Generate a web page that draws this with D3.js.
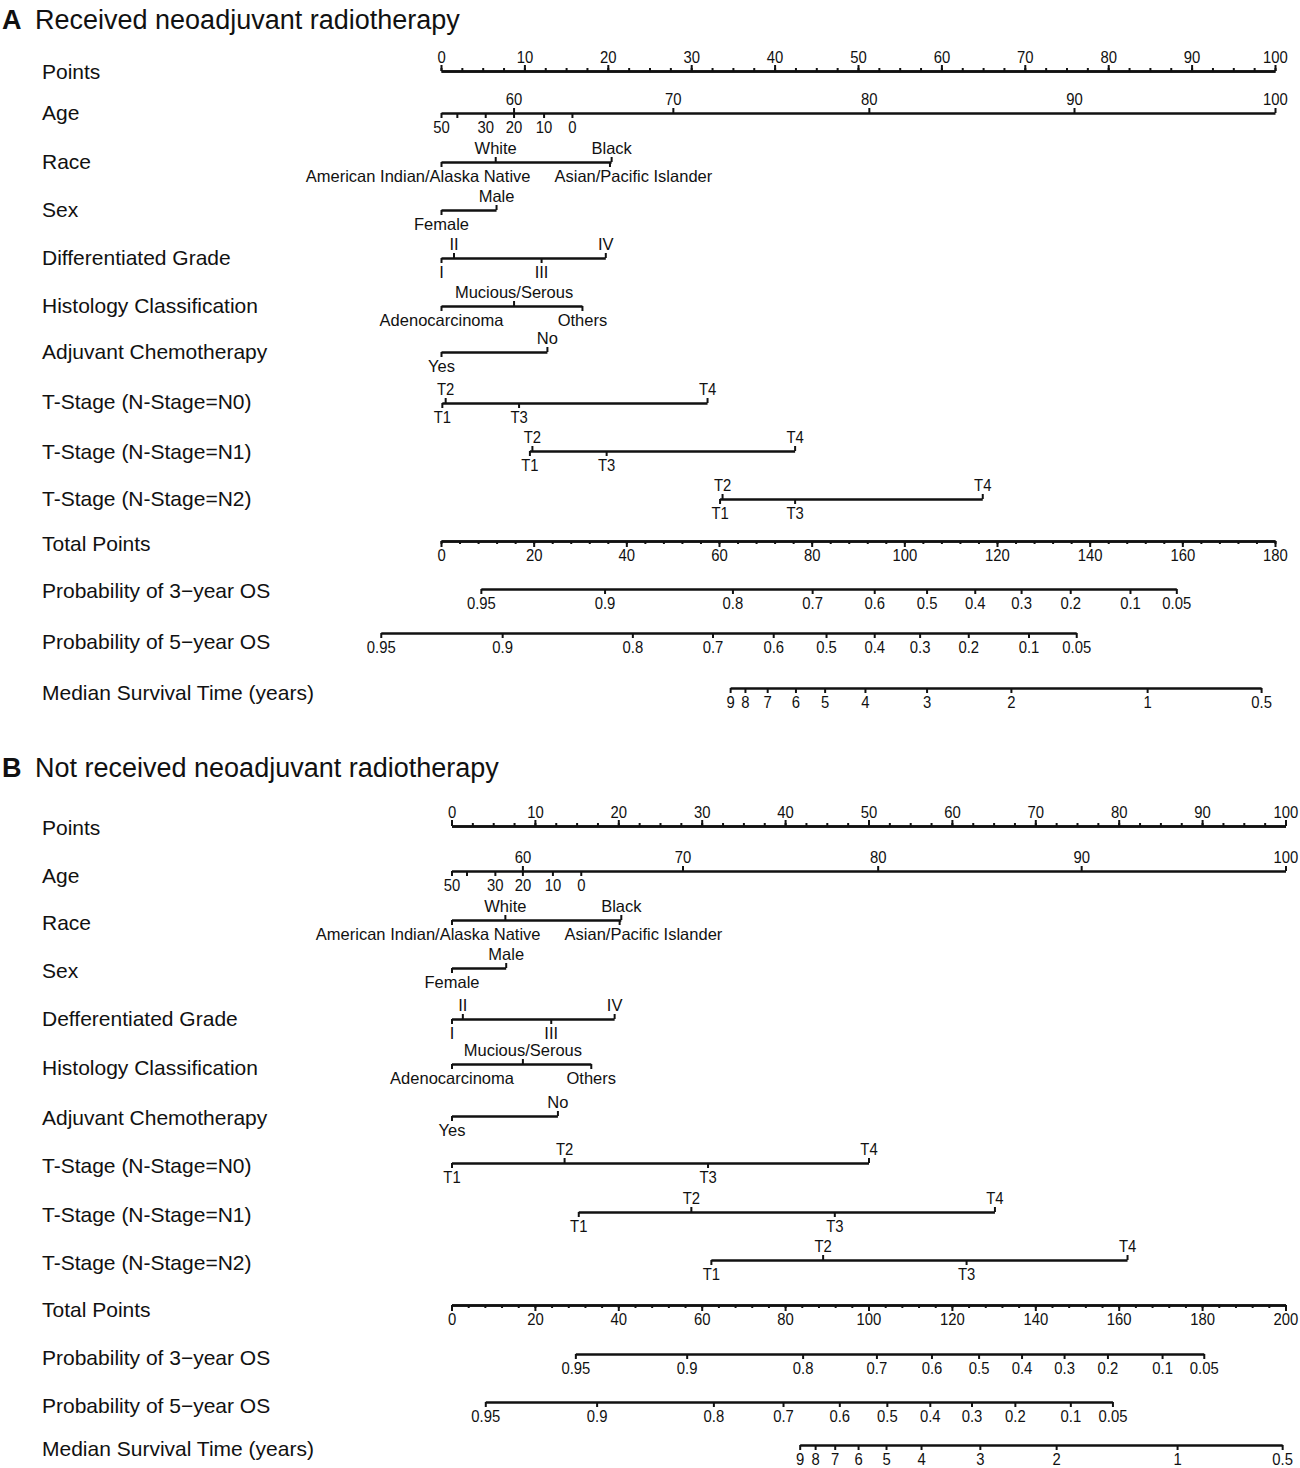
<!DOCTYPE html>
<html>
<head>
<meta charset="utf-8">
<script src="https://cdn.jsdelivr.net/npm/d3@7"></script>
<style>
  body { margin: 0; background: #fff; }
  text { font-family: "Liberation Sans", Arial, Helvetica, sans-serif; fill: #111; }
  .ax .domain { stroke: #111; stroke-width: 2.7; }
  .ax .tick line { stroke: #111; stroke-width: 2; }
</style>
</head>
<body>
<svg id="chart" width="1300" height="1468"></svg>
<script>
/**
 * 列名（两个面板）
 */
const rowNamesA = ["Points", "Age", "Race", "Sex", "Differentiated Grade", "Histology Classification",
  "Adjuvant Chemotherapy", "T-Stage (N-Stage=N0)", "T-Stage (N-Stage=N1)", "T-Stage (N-Stage=N2)",
  "Total Points", "Probability of 3\u2212year OS", "Probability of 5\u2212year OS", "Median Survival Time (years)"];
const rowNamesB = ["Points", "Age", "Race", "Sex", "Defferentiated Grade", "Histology Classification",
  "Adjuvant Chemotherapy", "T-Stage (N-Stage=N0)", "T-Stage (N-Stage=N1)", "T-Stage (N-Stage=N2)",
  "Total Points", "Probability of 3\u2212year OS", "Probability of 5\u2212year OS", "Median Survival Time (years)"];

// Points 轴刻度
const pointTicks = [0, 10, 20, 30, 40, 50, 60, 70, 80, 90, 100];

// Age
const ageLabels = ["0", "10", "20", "30", "", "50", "60", "70", "80", "90", "100"];
const ageSide = ["down", "down", "down", "down", "down", "down", "up", "up", "up", "up", "up"];
const agePointsA = [15.7, 12.3, 8.7, 5.3, 1.9, 0, 8.7, 27.8, 51.3, 75.9, 100];
const agePointsB = [15.5, 12.1, 8.5, 5.2, 1.8, 0, 8.5, 27.7, 51.1, 75.5, 100];

// Race
const raceLabels = ["American Indian/Alaska Native", "White", "Asian/Pacific Islander", "Black"];
const raceSide = ["down", "up", "down", "up"];
const racePointsA = [0, 6.5, 20.2, 20.4];
const racePointsB = [0, 6.4, 20.1, 20.3];

// Sex
const sexLabels = ["Female", "Male"];
const sexSide = ["down", "up"];
const sexPointsA = [0, 6.6];
const sexPointsB = [0, 6.5];

// Grade
const gradeLabels = ["I", "II", "III", "IV"];
const gradeSide = ["down", "up", "down", "up"];
const gradePointsA = [0, 1.5, 12.0, 19.7];
const gradePointsB = [0, 1.3, 11.9, 19.5];

// Histology
const histLabels = ["Adenocarcinoma", "Mucious/Serous", "Others"];
const histSide = ["down", "up", "down"];
const histPointsA = [0, 8.7, 16.9];
const histPointsB = [0, 8.5, 16.7];

// Adjuvant chemotherapy
const chemoLabels = ["Yes", "No"];
const chemoSide = ["down", "up"];
const chemoPointsA = [0, 12.7];
const chemoPointsB = [0, 12.7];

// T-Stage
const tLabels = ["T1", "T2", "T3", "T4"];
const tSide = ["down", "up", "down", "up"];
const tN0PointsA = [0.1, 0.5, 9.3, 31.9];
const tN1PointsA = [10.6, 10.9, 19.8, 42.4];
const tN2PointsA = [33.4, 33.7, 42.4, 64.9];
const tN0PointsB = [0, 13.5, 30.7, 50.0];
const tN1PointsB = [15.2, 28.7, 45.9, 65.1];
const tN2PointsB = [31.1, 44.5, 61.7, 81.0];

// Total points
const totalTicksA = [0, 20, 40, 60, 80, 100, 120, 140, 160, 180];
const totalTicksB = [0, 20, 40, 60, 80, 100, 120, 140, 160, 180, 200];

// 生存概率 / 中位生存时间（对应的总分位置）
const probLabels = ["0.95", "0.9", "0.8", "0.7", "0.6", "0.5", "0.4", "0.3", "0.2", "0.1", "0.05"];
const prob3TotalA = [8.6, 35.3, 62.9, 80.1, 93.5, 104.8, 115.2, 125.2, 135.8, 148.7, 158.7];
const prob5TotalA = [-13.0, 13.2, 41.3, 58.6, 71.7, 83.1, 93.5, 103.3, 113.8, 126.8, 137.1];
const prob3TotalB = [29.7, 56.4, 84.2, 101.9, 115.1, 126.4, 136.7, 146.9, 157.3, 170.4, 180.4];
const prob5TotalB = [8.1, 34.8, 62.8, 79.5, 93.0, 104.4, 114.7, 124.7, 135.1, 148.4, 158.5];
const medianLabels = ["9", "8", "7", "6", "5", "4", "3", "2", "1", "0.5"];
const medianTotalA = [62.4, 65.6, 70.4, 76.5, 82.8, 91.5, 104.8, 123.0, 152.4, 177.0];
const medianTotalB = [83.5, 87.2, 91.9, 97.5, 104.2, 112.6, 126.7, 145.0, 174.0, 199.2];

// 版面位置
const lineYA = [71, 113, 162, 210, 258, 306, 352, 403, 451, 499, 541, 589, 633, 688];
const nameYA = [72, 113, 162, 210, 258, 306, 352, 402, 452, 499, 544, 591, 642, 693];
const lineYB = [826, 871, 920, 968, 1019, 1064, 1116, 1163, 1212, 1260, 1305, 1354, 1402, 1445];
const nameYB = [828, 876, 923, 971, 1019, 1068, 1118, 1166, 1215, 1263, 1310, 1358, 1406, 1449];

const NUM_SIZE = 16.5;   // 数字标签（窄体）
const CAT_SIZE = 16.5;   // 分类标签

const svg = d3.select('#chart');

/**
 * 轴样式；narrow 为 true 时把文字横向压窄
 */
styleAxis = (ag, size, narrow) => {
  ag.attr('class', 'ax').attr('font-size', size).attr('font-family', null);
  ag.selectAll('text').attr('fill', '#111');
  if (narrow) ag.selectAll('text').attr('transform', 'scale(0.9,1)');
}

/**
 * 同侧标签重叠时左右推开
 */
repel = (row) => {
  row.selectAll('g.ax').each(function () {
    const items = [];
    d3.select(this).selectAll('.tick').each(function () {
      const tx = +d3.select(this).attr('transform').match(/translate\(([^,]+)/)[1];
      const t = d3.select(this).select('text');
      const w = t.node().getComputedTextLength();
      if (w > 0) items.push({ t, x: tx, w, dx: 0 });
    });
    items.sort((a, b) => a.x - b.x);
    for (let i = 1; i < items.length; i++) {
      const a = items[i - 1], b = items[i];
      const ov = (a.x + a.dx + a.w / 2 + 24) - (b.x + b.dx - b.w / 2);
      if (ov > 0) { a.dx -= ov / 2; b.dx += ov / 2; }
    }
    items.forEach(d => d.t.attr('x', d.dx));
  });
}

/**
 * 因子行：上下两侧标签
 */
drawFactorRow = (g, y, ptScale, f) => {
  const ext = d3.extent(f.pts);
  const s = d3.scaleLinear().domain(ext).range(ext.map(ptScale));
  const row = g.append('g').attr('transform', `translate(0,${y})`);
  ['up', 'down'].forEach(dir => {
    const idx = f.side.map((d, i) => d === dir ? i : -1).filter(i => i >= 0);
    const axis = (dir === 'up' ? d3.axisTop(s) : d3.axisBottom(s))
      .tickValues(idx.map(i => f.pts[i]))
      .tickFormat((d, k) => f.labels[idx[k]])
      .tickSize(5).tickSizeOuter(0).tickPadding(3);
    const ag = row.append('g').call(axis);
    styleAxis(ag, f.narrow ? NUM_SIZE : CAT_SIZE, f.narrow);
    if (dir === 'down') ag.select('.domain').remove();
  });
  if (!f.narrow) repel(row);
}

/**
 * 数值行：总分换算刻度（概率 / 中位生存时间）
 */
drawTotalRow = (g, y, totScale, labels, tot) => {
  const ext = d3.extent(tot);
  const s = d3.scaleLinear().domain(ext).range(ext.map(totScale));
  const axis = d3.axisBottom(s).tickValues(tot)
    .tickFormat((d, k) => labels[k])
    .tickSize(5).tickSizeOuter(0).tickPadding(3);
  const ag = g.append('g').attr('transform', `translate(0,${y})`).call(axis);
  styleAxis(ag, NUM_SIZE, true);
}

/**
 * 绘制一个面板
 */
drawPanel = (p) => {
  const g = svg.append('g');
  const ptScale = d3.scaleLinear().domain([0, 100]).range(p.xRange);
  const tmax = p.totalTicks[p.totalTicks.length - 1];
  const totScale = d3.scaleLinear().domain([0, tmax]).range(p.xRange);

  g.append('text').attr('x', 2).attr('y', p.titleY).attr('font-size', 27)
    .attr('font-weight', 'bold').text(p.letter);
  g.append('text').attr('x', 35).attr('y', p.titleY).attr('font-size', 27).text(p.title);

  p.names.forEach((n, i) => {
    g.append('text').attr('x', 42).attr('y', p.nameY[i]).attr('dy', '0.35em')
      .attr('font-size', 21).text(n);
  });

  // Points
  const pg = g.append('g').attr('transform', `translate(0,${p.lineY[0]})`);
  const minorP = pg.append('g').call(d3.axisTop(ptScale).tickValues(d3.range(0, 100.1, 2.5))
    .tickFormat('').tickSize(3).tickSizeOuter(0));
  styleAxis(minorP, NUM_SIZE, true);
  const majorP = pg.append('g').call(d3.axisTop(ptScale).tickValues(pointTicks)
    .tickSize(6).tickSizeOuter(0).tickPadding(2));
  styleAxis(majorP, NUM_SIZE, true);

  // 因子行
  p.factors.forEach((f, i) => drawFactorRow(g, p.lineY[i + 1], ptScale, f));

  // Total Points
  const tg = g.append('g').attr('transform', `translate(0,${p.lineY[10]})`);
  const minorT = tg.append('g').call(d3.axisBottom(totScale).tickValues(d3.range(0, tmax + 0.1, 4))
    .tickFormat('').tickSize(3).tickSizeOuter(0));
  styleAxis(minorT, NUM_SIZE, true);
  const majorT = tg.append('g').call(d3.axisBottom(totScale).tickValues(p.totalTicks)
    .tickSize(6).tickSizeOuter(0).tickPadding(2));
  styleAxis(majorT, NUM_SIZE, true);

  drawTotalRow(g, p.lineY[11], totScale, probLabels, p.prob3);
  drawTotalRow(g, p.lineY[12], totScale, probLabels, p.prob5);
  drawTotalRow(g, p.lineY[13], totScale, medianLabels, p.median);
}

pageInit = () => {
  drawPanel({
    letter: 'A', title: 'Received neoadjuvant radiotherapy', titleY: 29,
    xRange: [441, 1275], names: rowNamesA, lineY: lineYA, nameY: nameYA,
    totalTicks: totalTicksA, prob3: prob3TotalA, prob5: prob5TotalA, median: medianTotalA,
    factors: [
      { labels: ageLabels, pts: agePointsA, side: ageSide, narrow: true },
      { labels: raceLabels, pts: racePointsA, side: raceSide },
      { labels: sexLabels, pts: sexPointsA, side: sexSide },
      { labels: gradeLabels, pts: gradePointsA, side: gradeSide },
      { labels: histLabels, pts: histPointsA, side: histSide },
      { labels: chemoLabels, pts: chemoPointsA, side: chemoSide },
      { labels: tLabels, pts: tN0PointsA, side: tSide, narrow: true },
      { labels: tLabels, pts: tN1PointsA, side: tSide, narrow: true },
      { labels: tLabels, pts: tN2PointsA, side: tSide, narrow: true }
    ]
  });
  drawPanel({
    letter: 'B', title: 'Not received neoadjuvant radiotherapy', titleY: 777,
    xRange: [451.5, 1285.5], names: rowNamesB, lineY: lineYB, nameY: nameYB,
    totalTicks: totalTicksB, prob3: prob3TotalB, prob5: prob5TotalB, median: medianTotalB,
    factors: [
      { labels: ageLabels, pts: agePointsB, side: ageSide, narrow: true },
      { labels: raceLabels, pts: racePointsB, side: raceSide },
      { labels: sexLabels, pts: sexPointsB, side: sexSide },
      { labels: gradeLabels, pts: gradePointsB, side: gradeSide },
      { labels: histLabels, pts: histPointsB, side: histSide },
      { labels: chemoLabels, pts: chemoPointsB, side: chemoSide },
      { labels: tLabels, pts: tN0PointsB, side: tSide, narrow: true },
      { labels: tLabels, pts: tN1PointsB, side: tSide, narrow: true },
      { labels: tLabels, pts: tN2PointsB, side: tSide, narrow: true }
    ]
  });
}

window.onload = () => {
  pageInit();
}
</script>
</body>
</html>
